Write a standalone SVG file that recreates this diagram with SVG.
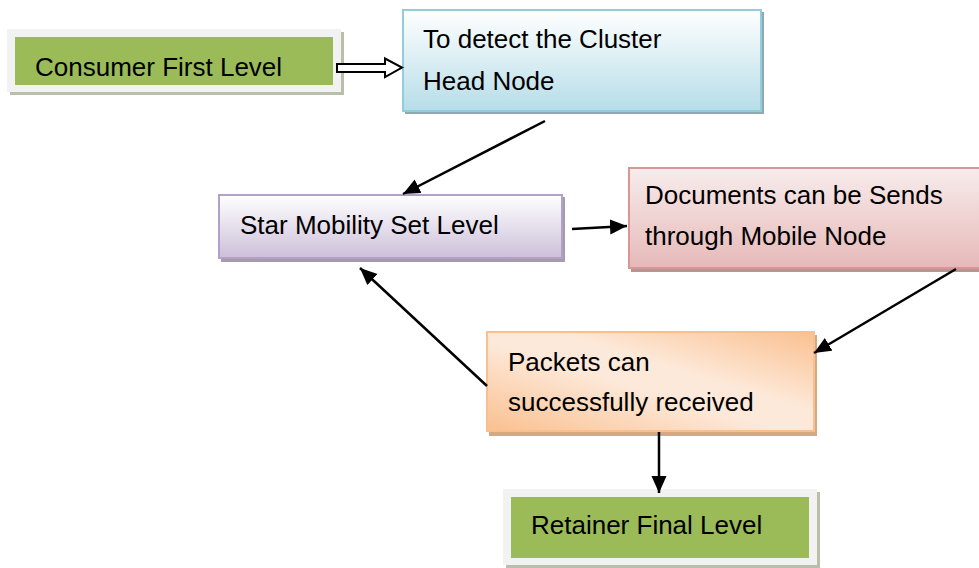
<svg xmlns="http://www.w3.org/2000/svg" width="979" height="568" viewBox="0 0 979 568">
<style>
text{font-family:"Liberation Sans",Arial,sans-serif;font-size:26px;fill:#000}
.con line{stroke:#000;stroke-width:2.5;marker-end:url(#ah)}
</style>
<defs>
<marker id="ah" markerUnits="userSpaceOnUse" markerWidth="18" markerHeight="16" refX="17" refY="7.5" orient="auto" viewBox="0 0 18 15">
<path d="M0,0 L17,7.5 L0,15 z" fill="#000"/>
</marker>
<linearGradient id="gBlue" x1="0" y1="0" x2="0" y2="1"><stop offset="0" stop-color="#ffffff"/><stop offset="1" stop-color="#b6dde8"/></linearGradient>
<linearGradient id="gPurp" x1="0" y1="0" x2="0" y2="1"><stop offset="0" stop-color="#ffffff"/><stop offset="1" stop-color="#ccc0da"/></linearGradient>
<linearGradient id="gPink" x1="0" y1="0" x2="0" y2="1"><stop offset="0" stop-color="#f8ecec"/><stop offset="1" stop-color="#e6b9b8"/></linearGradient>
<linearGradient id="gPeach" x1="0" y1="1" x2="1" y2="0"><stop offset="0" stop-color="#fac090"/><stop offset="0.45" stop-color="#fde9d9"/><stop offset="0.6" stop-color="#fde9d9"/><stop offset="1" stop-color="#fac090"/></linearGradient>
</defs>

<g id="consumer">
<rect x="10" y="32" width="334" height="63" fill="#b9bfab"/>
<rect x="7" y="29" width="334" height="63" fill="#f2f2f2"/>
<rect x="15" y="37" width="318" height="48" fill="#9bbb59"/>
<text x="35" y="76">Consumer First Level</text>
</g>

<g id="cluster">
<rect x="405" y="12" width="359" height="102" fill="#8fa9b1"/>
<rect x="403" y="10" width="358" height="101" fill="url(#gBlue)" stroke="#92cddc" stroke-width="2"/>
<text x="423" y="48">To detect the Cluster</text>
<text x="423" y="90">Head Node</text>
</g>

<g id="star">
<rect x="221" y="197" width="344" height="65" fill="#a49cad"/>
<rect x="219" y="195" width="343" height="63" fill="url(#gPurp)" stroke="#b2a1c7" stroke-width="2"/>
<text x="240" y="234">Star Mobility Set Level</text>
</g>

<g id="documents">
<rect x="631" y="171" width="352" height="101" fill="#b89494"/>
<rect x="629" y="168" width="352" height="100" fill="url(#gPink)" stroke="#d99694" stroke-width="2"/>
<text x="645" y="204">Documents can be Sends</text>
<text x="645" y="245">through Mobile Node</text>
</g>

<g id="packets">
<rect x="489" y="335" width="328" height="101" fill="#d6a882"/>
<rect x="487" y="332" width="327" height="99" fill="url(#gPeach)" stroke="#fabf8f" stroke-width="2"/>
<text x="508" y="371">Packets can</text>
<text x="508" y="411">successfully received</text>
</g>

<g id="retainer">
<rect x="506" y="492" width="314" height="76" fill="#b9bfab"/>
<rect x="503" y="489" width="314" height="76" fill="#f2f2f2"/>
<rect x="511" y="497" width="298" height="61" fill="#9bbb59"/>
<text x="531" y="534">Retainer Final Level</text>
</g>

<g id="connectors" class="con">
<path d="M337,64 H385 V58.5 L402,67.5 L385,77 V72 H337 Z" fill="#fff" stroke="#000" stroke-width="2"/>
<line x1="545" y1="121" x2="403" y2="194"/>
<line x1="572" y1="229" x2="627" y2="226"/>
<line x1="956" y1="269" x2="814" y2="353"/>
<line x1="487" y1="386" x2="360" y2="268"/>
<line x1="659" y1="432" x2="659" y2="493"/>
</g>
</svg>
